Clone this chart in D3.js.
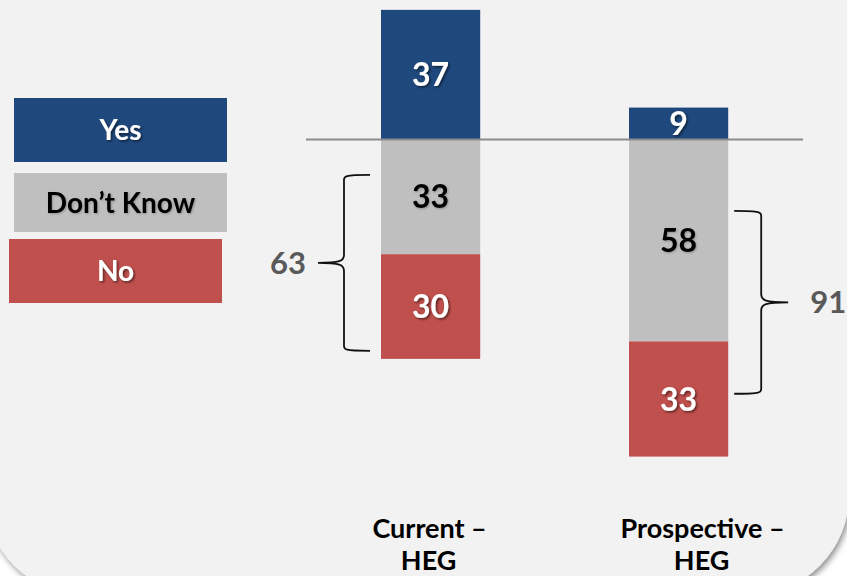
<!DOCTYPE html>
<html>
<head>
<meta charset="utf-8">
<script src="https://cdn.jsdelivr.net/npm/d3@7/dist/d3.min.js"></script>
<style>
  html, body { margin: 0; padding: 0; background: #ffffff; }
  svg { display: block; }
  text { font-family: Lato, "Open Sans", sans-serif; font-weight: 700; }
</style>
</head>
<body>
<svg id="chart" width="847" height="576"></svg>
<script>
// Survey answers per group (percent); "Yes" stacks upward, the rest downward
const categories = ["Current \u2013|HEG", "Prospective \u2013|HEG"];
const yesValues = [37, 9];
const dontKnowValues = [33, 58];
const noValues = [30, 33];
const bracketTotals = [63, 91];
const legendLabels = ["Yes", "Don\u2019t Know", "No"];

const colors = { yes: "#1f497d", dk: "#bfbfbf", no: "#c0504d" };

const svg = d3.select("#chart");
const W = 847, H = 576;

// Filters: panel shadow and text shadows
const defs = svg.append("defs");
const panelShadow = defs.append("filter").attr("id", "panelShadow")
  .attr("x", "-10%").attr("y", "-10%").attr("width", "120%").attr("height", "120%");
panelShadow.append("feDropShadow").attr("dx", 2).attr("dy", 3)
  .attr("stdDeviation", 3).attr("flood-color", "#000").attr("flood-opacity", 0.45);

const textShadow = defs.append("filter").attr("id", "textShadow")
  .attr("x", "-20%").attr("y", "-20%").attr("width", "140%").attr("height", "140%");
textShadow.append("feDropShadow").attr("dx", 1.5).attr("dy", 1.5)
  .attr("stdDeviation", 1).attr("flood-color", "#000").attr("flood-opacity", 0.55);

const softShadow = defs.append("filter").attr("id", "softShadow")
  .attr("x", "-20%").attr("y", "-20%").attr("width", "140%").attr("height", "140%");
softShadow.append("feDropShadow").attr("dx", 1).attr("dy", 1)
  .attr("stdDeviation", 0.8).attr("flood-color", "#000").attr("flood-opacity", 0.25);

svg.append("rect").attr("width", W).attr("height", H).attr("fill", "#ffffff");
svg.append("rect")
  .attr("x", -15).attr("y", -120).attr("width", 864).attr("height", 715)
  .attr("rx", 100).attr("ry", 100)
  .attr("fill", "#f2f2f2")
  .attr("filter", "url(#panelShadow)");

// Scales
const x = d3.scaleBand().domain(categories).range([381, 728.2]).paddingInner(0.6).paddingOuter(0);
const y = d3.scaleLinear().domain([0, 100]).range([139, 139 + 100 * 3.49]);
const yUp = v => y(0) - (y(v) - y(0));
// horizontal shift of each category caption relative to its bar centre
const captionShift = [-2, 23];

const groups = categories.map((c, i) => ({
  cat: c, yes: yesValues[i], dk: dontKnowValues[i], no: noValues[i], total: bracketTotals[i]
}));

// Bars
const g = svg.append("g");
groups.forEach(d => {
  const bx = x(d.cat), bw = x.bandwidth();
  const segs = [
    { key: "yes", y0: yUp(d.yes), y1: y(0), v: d.yes, fill: colors.yes, txt: "#fff" },
    { key: "dk", y0: y(0), y1: y(d.dk), v: d.dk, fill: colors.dk, txt: "#000" },
    { key: "no", y0: y(d.dk), y1: y(d.dk + d.no), v: d.no, fill: colors.no, txt: "#fff" }
  ];
  segs.forEach(s => {
    g.append("rect")
      .attr("x", bx).attr("y", s.y0)
      .attr("width", bw).attr("height", s.y1 - s.y0)
      .attr("fill", s.fill);
    g.append("text")
      .attr("x", bx + bw / 2).attr("y", (s.y0 + s.y1) / 2)
      .attr("dy", "0.36em")
      .attr("text-anchor", "middle")
      .attr("font-size", 32)
      .attr("fill", s.txt)
      .attr("filter", s.txt === "#fff" ? "url(#textShadow)" : "url(#softShadow)")
      .text(s.v);
  });
});

// Zero line
svg.append("line")
  .attr("x1", 306).attr("x2", 803)
  .attr("y1", y(0) + 0.5).attr("y2", y(0) + 0.5)
  .attr("stroke", "#8c8c8c").attr("stroke-width", 2);

// Category captions
groups.forEach((d, i) => {
  const lines = d.cat.split("|");
  const t = svg.append("text")
    .attr("text-anchor", "middle")
    .attr("font-size", 27)
    .attr("fill", "#000");
  lines.forEach((ln, j) => {
    t.append("tspan")
      .attr("x", x(d.cat) + x.bandwidth() / 2 + captionShift[i] + (j === 0 ? 1 : 0))
      .attr("y", 538 + j * 32)
      .text(ln);
  });
});

// Curly brace path: spine at xs from ya to yb, tip at xt, ends at xe
function brace(xs, ya, yb, xt, xe) {
  const ym = (ya + yb) / 2;
  const dir = Math.sign(xt - xs);
  const r = 8;
  return `M${xe},${ya} C${xs + dir * 2},${ya} ${xs},${ya + 1} ${xs},${ya + r}` +
    ` L${xs},${ym - r}` +
    ` C${xs},${ym - 2} ${xs + dir * 4},${ym} ${xt},${ym}` +
    ` M${xt},${ym} C${xs + dir * 4},${ym} ${xs},${ym + 2} ${xs},${ym + r}` +
    ` L${xs},${yb - r} C${xs},${yb - 1} ${xs + dir * 2},${yb} ${xe},${yb}`;
}

const bracesG = svg.append("g").attr("fill", "none").attr("stroke", "#111")
  .attr("stroke-width", 1.8);

// Current group: brace on the left of the bar
{
  const d = groups[0];
  const bx = x(d.cat);
  const ya = y(10.3), yb = y(60.7);
  bracesG.append("path").attr("d", brace(bx - 37, ya, yb, bx - 63, bx - 11));
  svg.append("text")
    .attr("x", bx - 75).attr("y", (ya + yb) / 2)
    .attr("dy", "0.36em").attr("text-anchor", "end")
    .attr("font-size", 31).attr("fill", "#595959")
    .text(d.total);
}
// Prospective group: brace on the right of the bar
{
  const d = groups[1];
  const bx = x(d.cat) + x.bandwidth();
  const ya = y(20.6), yb = y(73);
  bracesG.append("path").attr("d", brace(bx + 33, ya, yb, bx + 60, bx + 6));
  svg.append("text")
    .attr("x", bx + 82).attr("y", (ya + yb) / 2)
    .attr("dy", "0.36em").attr("text-anchor", "start")
    .attr("font-size", 31).attr("fill", "#595959")
    .text(d.total);
}

// Legend boxes
const legendBoxes = [
  { x: 14, y: 98, w: 213, h: 64, fill: colors.yes, txt: "#fff" },
  { x: 14, y: 173, w: 213, h: 59, fill: colors.dk, txt: "#000" },
  { x: 9, y: 239, w: 213, h: 64, fill: colors.no, txt: "#fff" }
];
legendLabels.forEach((lab, i) => {
  const b = legendBoxes[i];
  svg.append("rect").attr("x", b.x).attr("y", b.y).attr("width", b.w).attr("height", b.h)
    .attr("fill", b.fill);
  svg.append("text")
    .attr("x", b.x + b.w / 2).attr("y", b.y + b.h / 2)
    .attr("dy", "0.36em").attr("text-anchor", "middle")
    .attr("font-size", 28).attr("fill", b.txt)
    .attr("filter", b.txt === "#fff" ? "url(#textShadow)" : "url(#softShadow)")
    .text(lab);
});
</script>
</body>
</html>
